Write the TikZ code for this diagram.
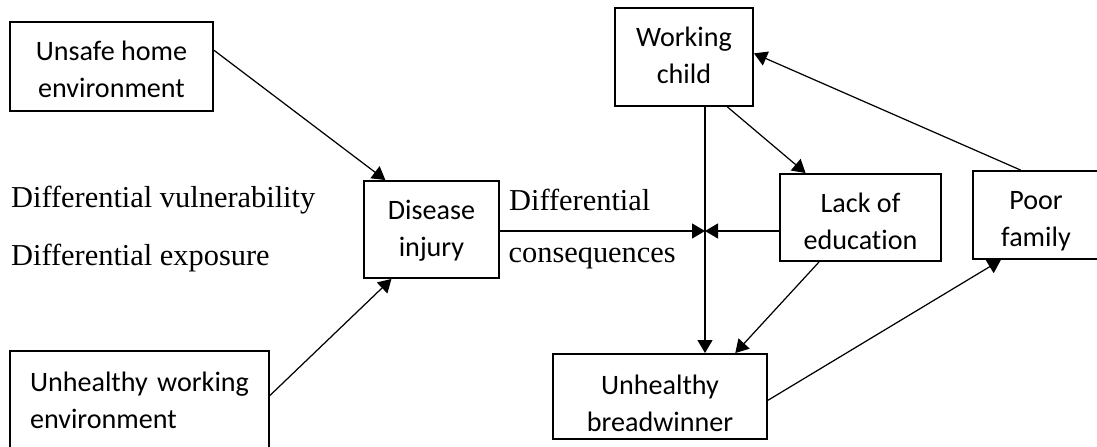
\documentclass[tikz,border=0pt]{standalone}
\usepackage{fontspec}
\setmainfont{Liberation Serif}
\newfontfamily\calibrifont[Ligatures=NoCommon]{Carlito}
\usepackage{tikz}
\usetikzlibrary{calc,arrows.meta}
\tikzstyle{arrow} = [->,>={Triangle[length=2.6mm,width=3mm]}]

\begin{document}
\begin{tikzpicture}[
factorbox/.style={rectangle, draw=black, line width=1.1pt, inner sep=0pt, align=center, font=\calibrifont\fontsize{16}{21}\selectfont},
difftext/.style={anchor=west, inner sep=0pt, font=\fontsize{17.3}{20}\selectfont},
line width=0.7pt]
\useasboundingbox (0,0) rectangle (21.94,-8.92);
\clip (0,0) rectangle (21.94,-8.92);
%Nodes
\node[factorbox, minimum width=4.06cm, minimum height=1.78cm, text height=1.22cm, text depth=0pt]      (home) at (2.23,-1.33)  {Unsafe home\\environment};
\node[factorbox, minimum width=2.70cm, minimum height=1.94cm, text height=1.06cm, text depth=0pt, xshift = 5.40cm, yshift = -3.26cm]      (disease)  [right of = home]{Disease\\injury};
\node[factorbox, text width=4.38cm, inner xsep=0.4cm, align=left, minimum height=1.96cm, xshift = 0.56cm, yshift = -5.67cm]      (workenv)  [below of = home]{Unhealthy working\\environment};
\node[factorbox, minimum width=2.76cm, minimum height=1.96cm, text height=1.06cm, text depth=0pt, xshift = 4.05cm, yshift = 3.45cm]      (child)  [right of = disease]{Working\\child};
\node[factorbox, minimum width=4.28cm, minimum height=1.70cm, text height=1.38cm, text depth=0pt, xshift = -0.48cm, yshift = -5.79cm]      (bread)  [below of = child]{Unhealthy\\breadwinner};
\node[factorbox, minimum width=3.22cm, minimum height=1.74cm, text height=1.26cm, text depth=0pt, xshift = 7.58cm, yshift = 0.24cm]      (lack)  [right of = disease]{Lack of\\education};
\node[factorbox, minimum width=2.52cm, minimum height=1.76cm, text height=1.24cm, text depth=0pt, xshift = 2.51cm, yshift = 0.05cm]      (poor)  [right of = lack]{Poor\\family};

\node[difftext] (vuln) at (0.21,-4.00) {Differential vulnerability};
\node[difftext] (expo) at (0.21,-5.16) {Differential exposure};
\node[difftext] (diffl) at (10.17,-4.00) {Differential};
\node[difftext] (conseq) at (10.16,-5.16) {consequences};

\coordinate (junc) at (14.10,-4.62);

%Lines
\draw[arrow] (home.9) -- (disease.133);
\draw[arrow] (workenv.2) -- (disease.231);
\draw[arrow] (junc -| disease.east) -- (junc);
\draw[arrow] (junc -| lack.west) -- (junc);
\draw[arrow] (junc |- child.south) -- (junc |- bread.north);
\draw[arrow] (child.-49) -- (lack.141);
\draw[arrow] (poor.109) -- (child.3);
\draw[arrow] (lack.227) -- (bread.30);
\draw[arrow] (bread.-2) -- (poor.232);
\end{tikzpicture}
\end{document}
